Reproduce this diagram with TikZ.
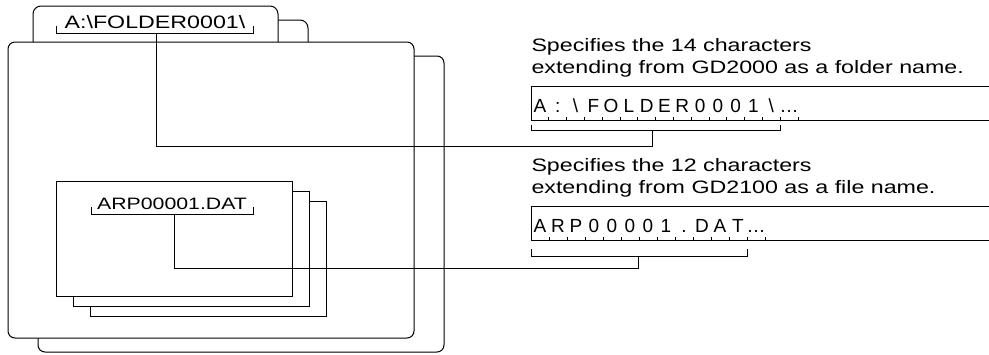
\documentclass[tikz,border=0pt]{standalone}
\usepackage{fontspec}
\setmainfont{Liberation Sans}
\newfontfamily\widefont[FakeStretch=1.29]{Liberation Sans}
\usetikzlibrary{positioning}

\begin{document}
\begin{tikzpicture}[
    x=1pt, y=-1pt,
    line width=1pt,
    folder/.style={draw, fill=white, rounded corners=7pt},
    sheet/.style={draw, fill=white},
    lbl/.style={font=\widefont\fontsize{18}{18}\selectfont, inner sep=0pt, anchor=base},
    desc/.style={font=\widefont\fontsize{18}{22}\selectfont, inner sep=0pt, anchor=base west},
    cellchar/.style={font=\fontsize{19}{19}\selectfont, inner sep=0pt, anchor=base},
    link/.style={draw}
]
\useasboundingbox (0,0) rectangle (989,354);

% back folder
\draw[folder] (38,56) rectangle (444,352);
\draw[fill=white, rounded corners=8pt] (270,42) -- (270,20) -- (308,20) -- (308,42);

% front folder with its tab
\draw[fill=white, rounded corners=8pt] (33,42) -- (33,6) -- (278,6) -- (278,42);
\draw[folder] (8,42) rectangle (414,338);

% folder name and its bracket
\node[lbl] (fldname) at (155,28) {A:\textbackslash FOLDER0001\textbackslash};
\draw (56,26) |- (253,33) -- (253,26);
\coordinate (fldtap) at (156,33);

% stack of files
\draw[sheet] (90,201) rectangle (326,316);
\draw[sheet] (73,191) rectangle (309,306);
\draw[sheet] (56,181) rectangle (292,296);

% file name and its bracket
\node[lbl, font=\widefont\fontsize{16.5}{16.5}\selectfont] (filename) at (172,209) {ARP00001.DAT};
\draw (91,207) |- (253,214) -- (253,207);
\coordinate (filetap) at (174,214);

% first description and character field
\node[desc] (desc1a) at (531,51) {Specifies the 14 characters};
\node[desc] (desc1b) at (531,73) {extending from GD2000 as a folder name.};
\draw (989,86) -| (531,120) -- (989,120);
\foreach \ch [count=\i] in {A,:,\textbackslash,F,O,L,D,E,R,0,0,0,1,\textbackslash,\ldots}
    \node[cellchar] (fa\i) at ({531+(\i-0.5)*17.8},112) {\ch};
\foreach \i in {1,...,15}
    \draw ({531+\i*17.8},117) -- ++(0,3);
\draw (531,125) |- (780,130) -- (780,125);
\coordinate (fieldtapa) at (652,130);

% second description and character field
\node[desc] (desc2a) at (531,171) {Specifies the 12 characters};
\node[desc] (desc2b) at (531,193) {extending from GD2100 as a file name.};
\draw (989,206) -| (531,240) -- (989,240);
\foreach \ch [count=\i] in {A,R,P,0,0,0,0,1,.,D,A,T,\ldots}
    \node[cellchar] (fb\i) at ({531+(\i-0.5)*18},232) {\ch};
\foreach \i in {1,...,13}
    \draw ({531+\i*18},237) -- ++(0,3);
\draw (531,249) |- (747,256) -- (747,249);
\coordinate (fieldtapb) at (638,256);

% connectors
\draw[link] (fldtap) -- ++(0,113) -| (fieldtapa);
\draw[link] (filetap) -- ++(0,54) -| (fieldtapb);

\end{tikzpicture}
\end{document}
